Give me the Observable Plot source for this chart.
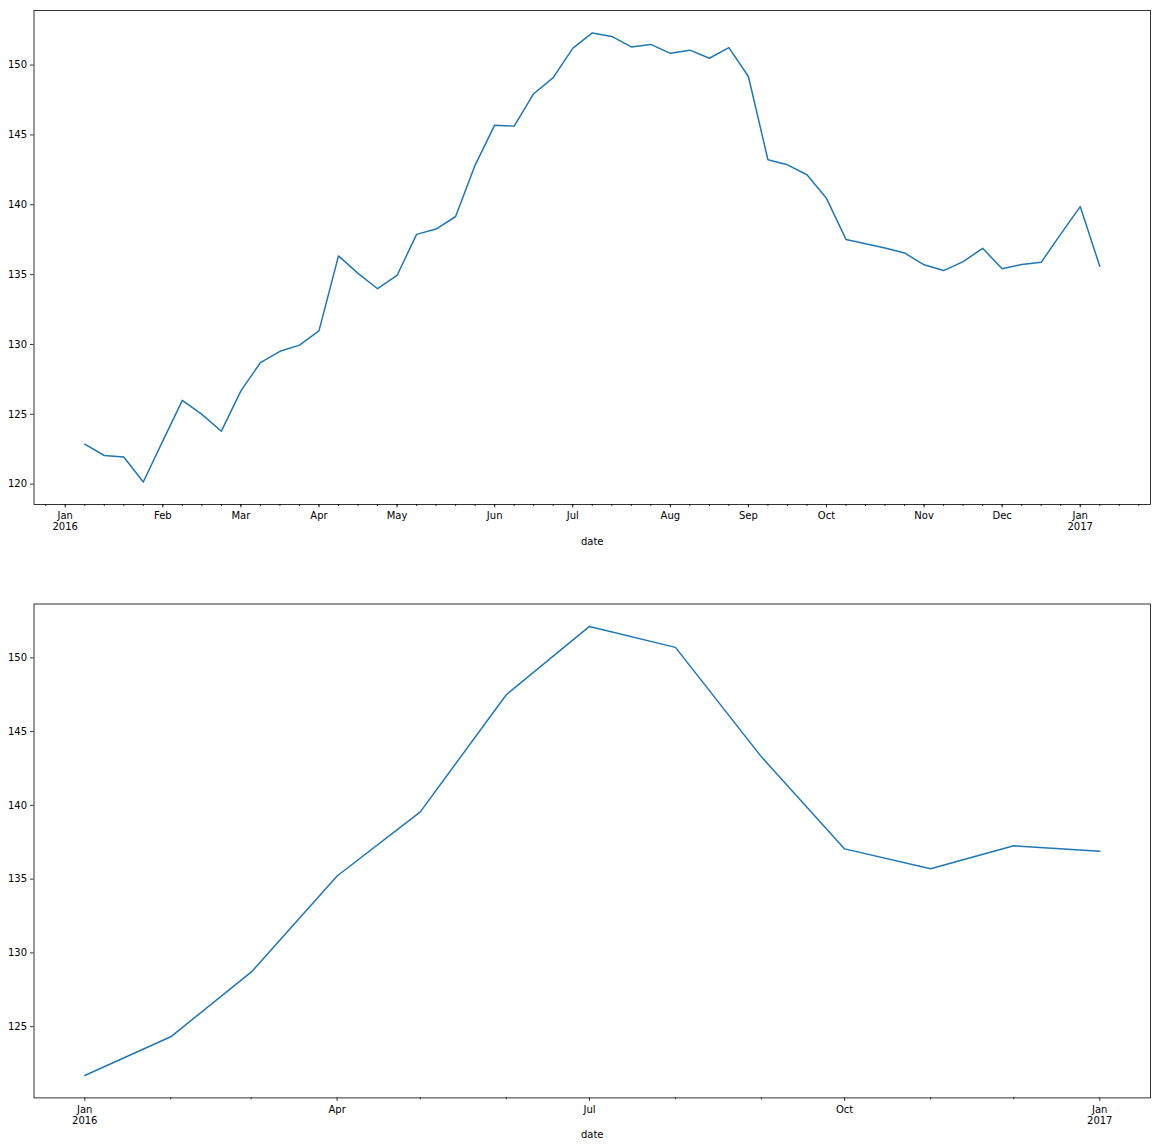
<!DOCTYPE html>
<html><head><meta charset="utf-8">
<script src="https://cdn.jsdelivr.net/npm/d3@7"></script>
<script src="https://cdn.jsdelivr.net/npm/@observablehq/plot@0.6"></script>
<style>
body{margin:0;background:#fff;}
#chart svg{display:block;}
</style></head><body><div id="chart"></div>
<script>
// Weekly series (weeks ending Sunday)
const weekDates = ["2016-01-10","2016-01-17","2016-01-24","2016-01-31","2016-02-07","2016-02-14","2016-02-21","2016-02-28",
  "2016-03-06","2016-03-13","2016-03-20","2016-03-27","2016-04-03","2016-04-10","2016-04-17","2016-04-24",
  "2016-05-01","2016-05-08","2016-05-15","2016-05-22","2016-05-29","2016-06-05","2016-06-12","2016-06-19","2016-06-26",
  "2016-07-03","2016-07-10","2016-07-17","2016-07-24","2016-07-31","2016-08-07","2016-08-14","2016-08-21","2016-08-28",
  "2016-09-04","2016-09-11","2016-09-18","2016-09-25","2016-10-02","2016-10-09","2016-10-16","2016-10-23","2016-10-30",
  "2016-11-06","2016-11-13","2016-11-20","2016-11-27","2016-12-04","2016-12-11","2016-12-18","2016-12-25",
  "2017-01-01","2017-01-08"];
const weekValues = [122.86,122.05,121.94,120.15,123.1,126.0,124.99,123.79,126.68,128.70,
  129.51,129.95,130.97,136.34,135.09,133.99,134.94,137.88,138.26,139.16,
  142.84,145.70,145.63,147.95,149.10,151.20,152.30,152.05,151.30,151.48,
  150.84,151.07,150.49,151.25,149.18,143.22,142.86,142.15,140.46,137.52,
  137.21,136.91,136.55,135.70,135.29,135.93,136.88,135.42,135.73,135.88,
  137.9,139.87,135.60];

// Monthly series (month start)
const monthDates = ["2016-01-01","2016-02-01","2016-03-01","2016-04-01","2016-05-01","2016-06-01","2016-07-01",
  "2016-08-01","2016-09-01","2016-10-01","2016-11-01","2016-12-01","2017-01-01"];
const monthValues = [121.69,124.31,128.69,135.21,139.56,147.50,152.13,150.71,143.29,137.05,135.70,137.26,136.89];

// Tick labels
const weekMajorTicks = ["2016-01-03","2016-02-07","2016-03-06","2016-04-03","2016-05-01","2016-06-05","2016-07-03",
  "2016-08-07","2016-09-04","2016-10-02","2016-11-06","2016-12-04","2017-01-01"];
const weekMajorLabels = ["Jan\n2016","Feb","Mar","Apr","May","Jun","Jul","Aug","Sep","Oct","Nov","Dec","Jan\n2017"];
const monthMajorTicks = ["2016-01-01","2016-04-01","2016-07-01","2016-10-01","2017-01-01"];
const monthMajorLabels = ["Jan\n2016","Apr","Jul","Oct","Jan\n2017"];
const monthMinorTicks = ["2016-02-01","2016-03-01","2016-05-01","2016-06-01","2016-08-01","2016-09-01","2016-11-01","2016-12-01"];
const topYTicks = [120,125,130,135,140,145,150];
const bottomYTicks = [125,130,135,140,145,150];

const parse = s => new Date(s + "T00:00:00Z");

function padded(arr) {
  const [a, b] = d3.extent(arr, v => +v);
  const p = 0.05 * (b - a);
  return [a - p, b + p];
}

function makeChart({dates, values, majorTicks, majorLabels, minorTicks, yTicks, height, marginTop, marginBottom}) {
  const data = dates.map((d, i) => ({date: parse(d), value: values[i]}));
  const xd = padded(data.map(d => d.date));
  const labelMap = new Map(majorTicks.map((t, i) => [+parse(t), majorLabels[i]]));
  return Plot.plot({
    width: 1160, height,
    marginLeft: 33.5, marginRight: 10, marginTop, marginBottom,
    style: {fontFamily: "DejaVu Sans", fontSize: "10px", color: "black", background: "white", overflow: "visible"},
    x: {type: "utc", domain: [new Date(xd[0]), new Date(xd[1])]},
    y: {domain: padded(values)},
    marks: [
      Plot.lineY(data, {x: "date", y: "value", stroke: "#1f77b4", strokeWidth: 1.5}),
      Plot.frame({stroke: "black", strokeWidth: 0.8}),
      Plot.axisY({ticks: yTicks, tickSize: 3.5, tickPadding: 3.5, tickFormat: d => String(d), label: null, strokeWidth: 0.8}),
      Plot.axisX({ticks: minorTicks.map(parse), tickSize: 2, tickFormat: () => "", label: null, strokeWidth: 0.8}),
      Plot.axisX({ticks: majorTicks.map(parse), tickSize: 3.5, tickPadding: 3.5, tickFormat: d => labelMap.get(+d), label: null, strokeWidth: 0.8, lineHeight: 1.1}),
      Plot.text(["date"], {frameAnchor: "bottom", dy: 37, text: d => d, lineAnchor: "middle", fill: "black"})
    ]
  });
}

const weekMinorTicks = d3.utcSunday.range(parse("2015-12-27"), parse("2017-01-23")).map(d => d.toISOString().slice(0, 10));

const chart = document.getElementById("chart");
chart.appendChild(makeChart({dates: weekDates, values: weekValues, majorTicks: weekMajorTicks, majorLabels: weekMajorLabels,
  minorTicks: weekMinorTicks, yTicks: topYTicks, height: 560, marginTop: 10, marginBottom: 56}));
chart.appendChild(makeChart({dates: monthDates, values: monthValues, majorTicks: monthMajorTicks, majorLabels: monthMajorLabels,
  minorTicks: monthMinorTicks, yTicks: bottomYTicks, height: 587, marginTop: 43.5, marginBottom: 49.6}));
</script></body></html>
